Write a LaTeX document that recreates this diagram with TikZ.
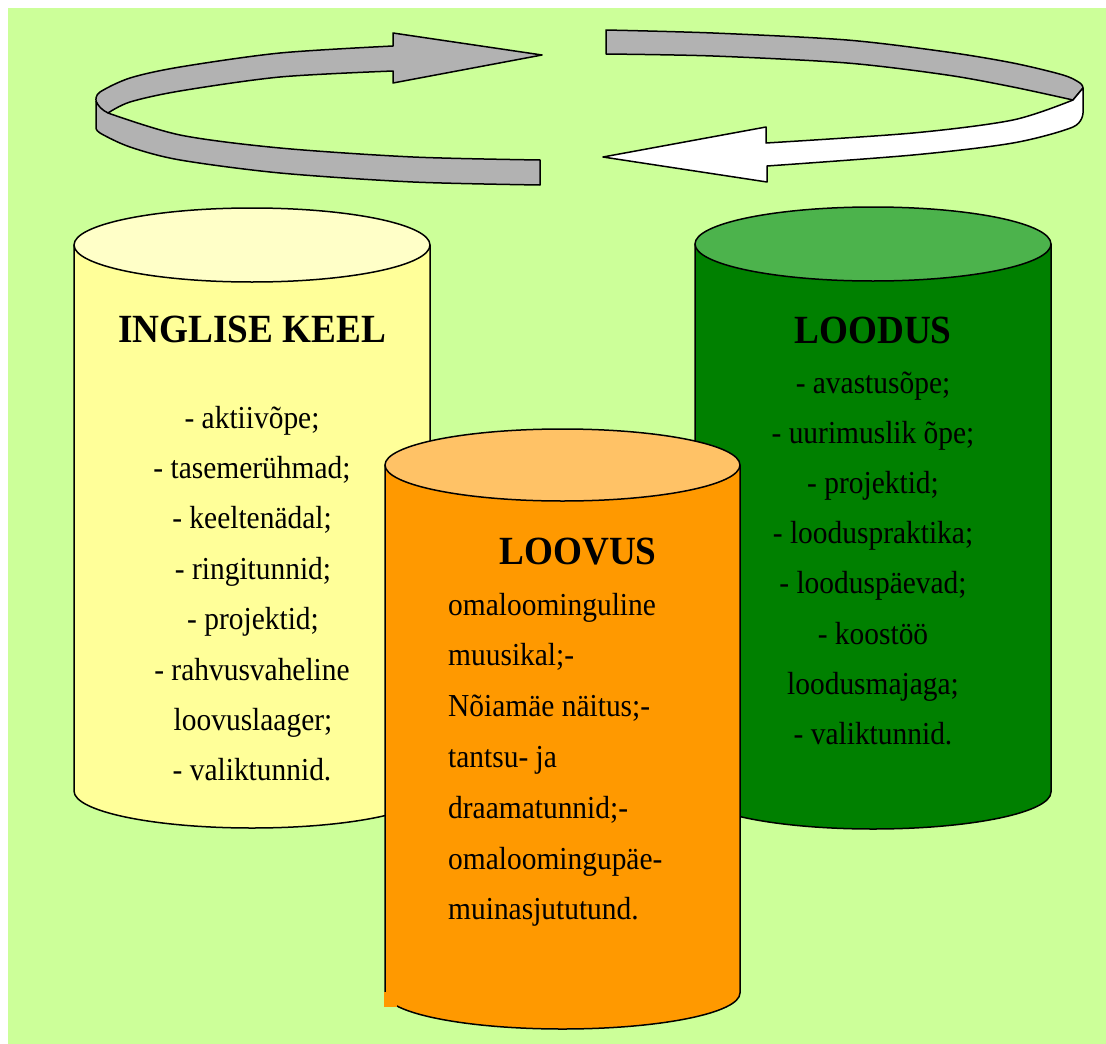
\documentclass[tikz,border=0pt]{standalone}
\usepackage{graphicx}
\usepackage{fontspec}
\setmainfont{Liberation Serif}
\definecolor{bg}{RGB}{204,255,153}
\definecolor{ringgray}{RGB}{178,178,178}
\definecolor{ylside}{RGB}{255,255,153}
\definecolor{yltop}{RGB}{255,255,200}
\definecolor{grside}{RGB}{0,128,0}
\definecolor{grtop}{RGB}{76,179,76}
\definecolor{orside}{RGB}{255,153,0}
\definecolor{ortop}{RGB}{255,194,102}
\newcommand\mybt[1]{\scalebox{0.92}[1]{#1}}
\newcommand\mytt[1]{\scalebox{0.93}[1]{#1}}
\newcommand\mycyl[7]{%
  \pgfmathsetmacro\cyC{(#1+#2)/2}%
  \pgfmathsetmacro\cyA{(#2-#1)/2}%
  \pgfmathsetmacro\cyK{0.5523*(#2-#1)/2}%
  \pgfmathsetmacro\cyR{0.5523*#5}%
  \filldraw[outl,fill=#6] (#1,#3) -- (#1,#4)
    .. controls (#1,#4+\cyR) and (\cyC-\cyK,#4+#5) .. (\cyC,#4+#5)
    .. controls (\cyC+\cyK,#4+#5) and (#2,#4+\cyR) .. (#2,#4) -- (#2,#3) -- cycle;
  \filldraw[outl,fill=#7] (\cyC,#3) ellipse [x radius=\cyA, y radius=#5];
}
\begin{document}
\begin{tikzpicture}[x=1pt,y=-1pt,
  outl/.style={draw=black,line width=1.5pt,line join=round},
  body/.style={font=\fontsize{32}{38}\selectfont,inner sep=0pt},
  ttl/.style={font=\bfseries\fontsize{40}{44}\selectfont,inner sep=0pt}]
\useasboundingbox (0,0) rectangle (1106,1044);
\fill[bg] (8,8) rectangle (1106,1044);

% ring arrow, left (gray)
\filldraw[outl,fill=ringgray] (542,55) -- (393,83) -- (393,71)
  -- plot[smooth] coordinates {(393,71) (280,77) (180,91) (130,102) (108,113)}
  -- plot[smooth] coordinates {(108,113) (180,135) (280,148) (413,157) (540,160)}
  -- (540,185)
  -- plot[smooth] coordinates {(540,185) (413,182) (280,173) (180,160) (130,147) (100,133) (96,127)}
  -- (96,100)
  -- plot[smooth] coordinates {(96,100) (100,92) (130,78) (180,67) (280,53) (393,46)}
  -- (393,33) -- cycle;
\draw[outl] (96,101) .. controls (98,106) and (102,110) .. (108,113);

% ring arrow, right: gray back band
\filldraw[outl,fill=ringgray] (606,30)
  -- plot[smooth] coordinates {(606,30) (713,33) (847,40) (947,52) (1013,63) (1063,75) (1080,83) (1083,88)}
  -- (1073,100)
  -- plot[smooth] coordinates {(1073,100) (1013,87) (947,75) (847,63) (713,56) (606,54)}
  -- cycle;
% ring arrow, right: white front band with head
\filldraw[outl,fill=white] (1083,88) -- (1083,113)
  -- plot[smooth] coordinates {(1083,113) (1073,127) (1013,143) (913,155) (767,166)}
  -- (767,182) -- (603,157) -- (766,127) -- (766,143)
  -- plot[smooth] coordinates {(766,143) (913,133) (1013,120) (1073,100)}
  -- cycle;

% cylinders
\mycyl{74}{430}{245}{791}{37}{ylside}{yltop}
\mycyl{695}{1051}{244}{792}{37}{grside}{grtop}
\mycyl{385}{740}{465}{993}{36}{orside}{ortop}
\fill[orside] (384.25,992) rectangle (397,1007);

% INGLISE KEEL
\node[ttl,anchor=base] (t1) at (252,342) {\mytt{INGLISE KEEL}};
\node[body,anchor=base] (y1) at (252,428) {\mybt{- aktiivõpe;}};
\node[body,anchor=base] (y2) at (252,478.4) {\mybt{- tasemerühmad;}};
\node[body,anchor=base] (y3) at (252,528.8) {\mybt{- keeltenädal;}};
\node[body,anchor=base] (y4) at (253,579.2) {\mybt{- ringitunnid;}};
\node[body,anchor=base] (y5) at (253,629.6) {\mybt{- projektid;}};
\node[body,anchor=base] (y6) at (252,680) {\mybt{- rahvusvaheline}};
\node[body,anchor=base] (y7) at (253,730.4) {\mybt{loovuslaager;}};
\node[body,anchor=base] (y8) at (252,780.8) {\mybt{- valiktunnid.}};

% LOODUS
\node[ttl,anchor=base] (t2) at (873,343) {\mytt{LOODUS}};
\node[body,anchor=base] (g1) at (873,393) {\mybt{- avastusõpe;}};
\node[body,anchor=base] (g2) at (873,443.2) {\mybt{- uurimuslik õpe;}};
\node[body,anchor=base] (g3) at (873,493.4) {\mybt{- projektid;}};
\node[body,anchor=base] (g4) at (873,543.6) {\mybt{- looduspraktika;}};
\node[body,anchor=base] (g5) at (873,593.8) {\mybt{- looduspäevad;}};
\node[body,anchor=base] (g6) at (873,644) {\mybt{- koostöö}};
\node[body,anchor=base] (g7) at (873,694.2) {\mybt{loodusmajaga;}};
\node[body,anchor=base] (g8) at (873,744.4) {\mybt{- valiktunnid.}};

% LOOVUS
\node[ttl,anchor=base] (t3) at (578,564) {\mytt{LOOVUS}};
\node[body,anchor=base west] (o1) at (448,615) {\mybt{omaloominguline}};
\node[body,anchor=base west] (o2) at (448,665.8) {\mybt{muusikal;-}};
\node[body,anchor=base west] (o3) at (448,716.6) {\mybt{Nõiamäe näitus;-}};
\node[body,anchor=base west] (o4) at (448,767.4) {\mybt{tantsu- ja}};
\node[body,anchor=base west] (o5) at (448,818.2) {\mybt{draamatunnid;-}};
\node[body,anchor=base west] (o6) at (448,869) {\mybt{omaloomingupäe-}};
\node[body,anchor=base west] (o7) at (448,919.8) {\mybt{muinasjututund.}};
\end{tikzpicture}
\end{document}
